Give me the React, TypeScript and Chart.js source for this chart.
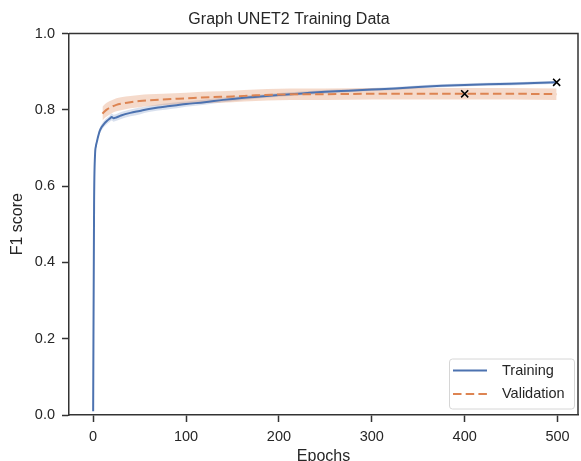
import React, { useEffect, useRef } from 'react';
import { Chart, registerables } from 'chart.js';

Chart.register(...registerables);

// ---- Data ----
const trainEpochs = [0, 1, 2, 3, 4, 5, 6, 7, 9, 12, 15, 18, 20, 22, 25, 30, 40, 50, 60, 70, 80, 90, 100, 120, 140, 160, 180, 200, 225, 250, 275, 300, 325, 350, 375, 400, 425, 450, 475, 499];
const trainF1 = [0.01, 0.55, 0.68, 0.705, 0.716, 0.727, 0.736, 0.744, 0.754, 0.764, 0.771, 0.777, 0.781, 0.778, 0.78, 0.785, 0.792, 0.797, 0.802, 0.806, 0.809, 0.812, 0.815, 0.82, 0.826, 0.831, 0.835, 0.839, 0.843, 0.847, 0.85, 0.853, 0.856, 0.86, 0.863, 0.865, 0.867, 0.868, 0.87, 0.872];
const trainStd = [0, 0.008, 0.007, 0.006, 0.006, 0.006, 0.006, 0.007, 0.008, 0.008, 0.008, 0.008, 0.009, 0.009, 0.009, 0.009, 0.009, 0.009, 0.008, 0.008, 0.008, 0.008, 0.007, 0.007, 0.006, 0.006, 0.005, 0.005, 0.005, 0.005, 0.004, 0.004, 0.004, 0.004, 0.004, 0.004, 0.004, 0.004, 0.004, 0.004];

const valEpochs = [10, 12, 15, 20, 25, 30, 40, 50, 60, 75, 100, 125, 150, 175, 200, 225, 250, 300, 350, 400, 450, 499];
const valF1 = [0.79, 0.795, 0.801, 0.808, 0.813, 0.816, 0.82, 0.823, 0.825, 0.827, 0.83, 0.833, 0.835, 0.838, 0.84, 0.841, 0.841, 0.842, 0.842, 0.842, 0.842, 0.841];
const valStd = [0.018, 0.018, 0.018, 0.017, 0.017, 0.017, 0.016, 0.016, 0.016, 0.015, 0.015, 0.015, 0.015, 0.015, 0.015, 0.015, 0.015, 0.015, 0.015, 0.015, 0.015, 0.015];

const markerEpochs = [499, 400];
const markerF1 = [0.872, 0.842];

const seriesNames = ['Training', 'Validation'];
const yTicks = [0, 0.2, 0.4, 0.6, 0.8, 1.0];

const FONT = '"Liberation Sans", Arial, "DejaVu Sans", sans-serif';
const BLUE = '#4C72B0';
const ORANGE = '#DD8452';
const INK = '#262626';
const SPINE = '#333333';
const DASH = [8.5, 4.2];

const framePlugin = {
  id: 'frameAndLegend',
  afterDraw(chart: any) {
    const { ctx, chartArea: a } = chart;
    ctx.save();
    // top and right spines
    ctx.strokeStyle = SPINE;
    ctx.lineWidth = 1.5;
    ctx.beginPath();
    ctx.moveTo(a.left, a.top);
    ctx.lineTo(a.right, a.top);
    ctx.lineTo(a.right, a.bottom);
    ctx.stroke();

    // legend box (lower right)
    const w = 125;
    const h = 50;
    const right = a.right - 4;
    const bottom = a.bottom - 6.5;
    const left = right - w;
    const top = bottom - h;
    ctx.beginPath();
    (ctx as any).roundRect(left + 0.5, top + 0.5, w, h, 3);
    ctx.fillStyle = 'rgba(255,255,255,0.8)';
    ctx.fill();
    ctx.strokeStyle = '#d6d6d6';
    ctx.lineWidth = 1;
    ctx.stroke();

    const rows = [
      { y: top + 12, color: BLUE, dash: [] as number[] },
      { y: top + 35.5, color: ORANGE, dash: DASH },
    ];
    rows.forEach((r, i) => {
      ctx.beginPath();
      ctx.setLineDash(r.dash);
      ctx.strokeStyle = r.color;
      ctx.lineWidth = 2;
      ctx.moveTo(left + 4, r.y);
      ctx.lineTo(left + 38, r.y);
      ctx.stroke();
      ctx.setLineDash([]);
      ctx.fillStyle = INK;
      ctx.font = `14.5px ${FONT}`;
      ctx.textBaseline = 'middle';
      ctx.textAlign = 'left';
      ctx.fillText(seriesNames[i], left + 53, r.y);
    });
    ctx.restore();
  },
};

export default function App() {
  const ref = useRef<HTMLCanvasElement | null>(null);

  useEffect(() => {
    if (!ref.current) return;
    const pts = (xs: number[], ys: number[], d: number[] | null, sign: number) =>
      xs.map((x, i) => ({ x, y: ys[i] + (d ? sign * d[i] : 0) }));

    const chart = new Chart(ref.current, {
      type: 'line',
      data: {
        datasets: [
          {
            label: 'trainLow',
            data: pts(trainEpochs, trainF1, trainStd, -1),
            borderColor: 'transparent',
            pointRadius: 0,
            fill: false,
            cubicInterpolationMode: 'monotone',
            order: 10,
          },
          {
            label: 'trainHigh',
            data: pts(trainEpochs, trainF1, trainStd, 1),
            borderColor: 'transparent',
            backgroundColor: 'rgba(76,114,176,0.22)',
            pointRadius: 0,
            fill: '-1',
            cubicInterpolationMode: 'monotone',
            order: 9,
          },
          {
            label: 'valLow',
            data: pts(valEpochs, valF1, valStd, -1),
            borderColor: 'transparent',
            pointRadius: 0,
            fill: false,
            cubicInterpolationMode: 'monotone',
            order: 8,
          },
          {
            label: 'valHigh',
            data: pts(valEpochs, valF1, valStd, 1),
            borderColor: 'transparent',
            backgroundColor: 'rgba(221,132,82,0.3)',
            pointRadius: 0,
            fill: '-1',
            cubicInterpolationMode: 'monotone',
            order: 7,
          },
          {
            label: seriesNames[0],
            data: pts(trainEpochs, trainF1, null, 0),
            borderColor: BLUE,
            borderWidth: 2,
            pointRadius: 0,
            fill: false,
            cubicInterpolationMode: 'monotone',
            order: 2,
          },
          {
            label: seriesNames[1],
            data: pts(valEpochs, valF1, null, 0),
            borderColor: ORANGE,
            borderWidth: 2,
            borderDash: DASH,
            pointRadius: 0,
            fill: false,
            cubicInterpolationMode: 'monotone',
            order: 1,
          },
          {
            label: 'best',
            data: pts(markerEpochs, markerF1, null, 0),
            showLine: false,
            pointStyle: 'crossRot',
            pointRadius: 5,
            borderColor: '#000',
            borderWidth: 1.6,
            backgroundColor: '#000',
            order: 0,
          },
        ],
      },
      options: {
        animation: false,
        responsive: false,
        devicePixelRatio: 1,
        layout: { autoPadding: false, padding: { left: 0, right: 3, top: 0, bottom: 0 } },
        plugins: {
          legend: { display: false },
          tooltip: { enabled: false },
          title: {
            display: true,
            text: 'Graph UNET2 Training Data',
            color: INK,
            font: { family: FONT, size: 16, weight: 'normal' },
            padding: { top: 9.9, bottom: 4.4 },
          },
        },
        scales: {
          x: {
            type: 'linear',
            min: -26,
            max: 522,
            ticks: {
              stepSize: 100,
              includeBounds: false,
              color: INK,
              font: { family: FONT, size: 14.5 },
              padding: 6,
              maxRotation: 0,
            },
            grid: {
              drawOnChartArea: false,
              drawTicks: true,
              tickLength: 7,
              tickColor: SPINE,
              tickWidth: 1.5,
            },
            border: { display: true, color: SPINE, width: 1.5 },
            title: {
              display: true,
              text: 'Epochs',
              color: INK,
              font: { family: FONT, size: 16 },
              padding: { top: 0, bottom: 12 },
            },
            afterFit: (s: any) => {
              s.height = 63;
              s.paddingRight = 0;
              s.paddingLeft = 0;
            },
          },
          y: {
            type: 'linear',
            min: 0,
            max: 1,
            afterBuildTicks: (s: any) => {
              s.ticks = yTicks.map((v) => ({ value: v }));
            },
            ticks: {
              color: INK,
              font: { family: FONT, size: 14.5 },
              padding: 7,
              callback: (v: any) => Number(v).toFixed(1),
            },
            grid: {
              drawOnChartArea: false,
              drawTicks: true,
              tickLength: 7,
              tickColor: SPINE,
              tickWidth: 1.5,
            },
            border: { display: true, color: SPINE, width: 1.5 },
            title: {
              display: true,
              text: 'F1 score',
              color: INK,
              font: { family: FONT, size: 16 },
              padding: { top: 8.4, bottom: 0 },
            },
            afterFit: (s: any) => {
              s.width = 69;
              s.paddingTop = 0;
              s.paddingBottom = 0;
            },
          },
        },
      } as any,
      plugins: [framePlugin],
    });
    return () => chart.destroy();
  }, []);

  return (
    <div
      style={{
        position: 'fixed',
        left: 0,
        top: 0,
        width: 581,
        height: 461,
        overflow: 'hidden',
        background: '#fff',
      }}
    >
      <canvas ref={ref} width={581} height={478} style={{ display: 'block' }} />
    </div>
  );
}
